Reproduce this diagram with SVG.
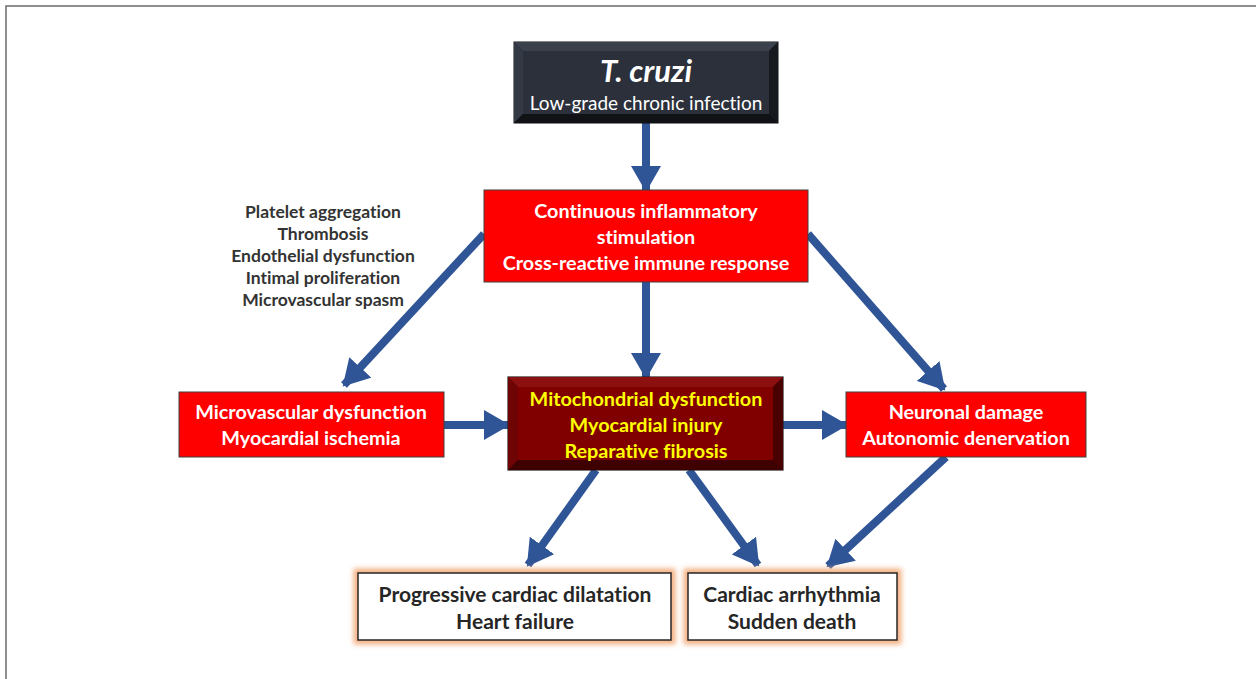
<svg xmlns="http://www.w3.org/2000/svg" width="1256" height="679" viewBox="0 0 1256 679">
<style>
  text { font-variant-ligatures: none; font-feature-settings: "liga" 0, "clig" 0; }
  .t { font-family: Lato, "Liberation Sans", sans-serif; font-weight: bold; text-anchor: middle; }
  .w { fill: #ffffff; font-size: 19.8px; }
  .y { fill: #ffff00; font-size: 19.8px; }
  .d { fill: #262626; font-size: 21px; }
  .s { fill: #333333; font-size: 17.5px; }
  .red { fill: #ff0000; stroke: #404040; stroke-width: 1; }
  .out { fill: #ffffff; stroke: #262626; stroke-width: 1.5; }
  .glow { fill: none; stroke: #f4b183; stroke-width: 9; filter: url(#blur); }
  .arr { stroke: #2f5597; stroke-width: 8; fill: none; marker-end: url(#ah); }
</style>
<defs>
  <marker id="ah" markerUnits="userSpaceOnUse" markerWidth="28" markerHeight="30" refX="24" refY="15" orient="auto">
    <path d="M0,0 L26,15 L0,30 Z" fill="#2f5597"/>
  </marker>
  <filter id="blur" x="-10%" y="-20%" width="120%" height="140%">
    <feGaussianBlur stdDeviation="2.5"/>
  </filter>
</defs>
<rect x="6" y="6" width="1270" height="700" fill="#ffffff" stroke="#6b6b6b" stroke-width="1.5"/>

<g id="connectors">
  <line class="arr" x1="646" y1="123" x2="646" y2="190"/>
  <line class="arr" x1="646" y1="282" x2="646" y2="377"/>
  <line class="arr" x1="484" y1="234" x2="344" y2="385"/>
  <line class="arr" x1="808" y1="234" x2="944" y2="389"/>
  <line class="arr" x1="444" y1="425" x2="508" y2="425"/>
  <line class="arr" x1="783" y1="425" x2="846" y2="425"/>
  <line class="arr" x1="596" y1="470" x2="528" y2="565"/>
  <line class="arr" x1="689" y1="470" x2="758" y2="565"/>
  <line class="arr" x1="946" y1="457" x2="828" y2="566"/>
</g>

<g id="tcruzi">
  <rect x="514" y="42" width="264" height="81" fill="#1b1e24" stroke="#111" stroke-width="1"/>
  <polygon points="514,42 778,42 769,51 523,51" fill="#3a404c"/>
  <polygon points="514,42 523,51 523,114 514,123" fill="#343a45"/>
  <polygon points="778,42 778,123 769,114 769,51" fill="#16191e"/>
  <polygon points="514,123 778,123 769,114 523,114" fill="#101216"/>
  <rect x="523" y="51" width="246" height="63" fill="#2b303b"/>
  <text class="t" x="646" y="82" fill="#ffffff" font-size="31" font-style="italic">T. cruzi</text>
  <text x="646" y="110" fill="#ffffff" font-size="19" font-family="Lato, 'Liberation Sans', sans-serif" text-anchor="middle">Low-grade chronic infection</text>
</g>

<g id="inflammation">
  <rect class="red" x="484" y="190" width="324" height="92"/>
  <text class="t w" x="646" y="218">Continuous inflammatory</text>
  <text class="t w" x="646" y="244">stimulation</text>
  <text class="t w" x="646" y="270">Cross-reactive immune response</text>
</g>

<g id="vascular-notes">
  <text class="t s" x="323" y="218">Platelet aggregation</text>
  <text class="t s" x="323" y="240">Thrombosis</text>
  <text class="t s" x="323" y="262">Endothelial dysfunction</text>
  <text class="t s" x="323" y="284">Intimal proliferation</text>
  <text class="t s" x="323" y="306">Microvascular spasm</text>
</g>

<g id="microvascular">
  <rect class="red" x="179" y="392" width="265" height="65"/>
  <text class="t w" x="311" y="419">Microvascular dysfunction</text>
  <text class="t w" x="311" y="445">Myocardial ischemia</text>
</g>

<g id="myocardial">
  <rect x="508" y="377" width="275" height="93" fill="#5a0000" stroke="#222" stroke-width="1.2"/>
  <polygon points="508,377 783,377 773,387 518,387" fill="#8c1010"/>
  <polygon points="508,377 518,387 518,460 508,470" fill="#6e0404"/>
  <polygon points="783,377 783,470 773,460 773,387" fill="#4a0000"/>
  <polygon points="508,470 783,470 773,460 518,460" fill="#3e0000"/>
  <rect x="518" y="387" width="255" height="73" fill="#800000"/>
  <text class="t y" x="646" y="406">Mitochondrial dysfunction</text>
  <text class="t y" x="646" y="432">Myocardial injury</text>
  <text class="t y" x="646" y="458">Reparative fibrosis</text>
</g>

<g id="neuronal">
  <rect class="red" x="846" y="392" width="240" height="65"/>
  <text class="t w" x="966" y="419">Neuronal damage</text>
  <text class="t w" x="966" y="445">Autonomic denervation</text>
</g>

<g id="heart-failure">
  <rect class="glow" x="358" y="573" width="313" height="67"/>
  <rect class="out" x="358" y="573" width="313" height="67"/>
  <text class="t d" x="515" y="602">Progressive cardiac dilatation</text>
  <text class="t d" x="515" y="629">Heart failure</text>
</g>

<g id="arrhythmia">
  <rect class="glow" x="688" y="573" width="209" height="67"/>
  <rect class="out" x="688" y="573" width="209" height="67"/>
  <text class="t d" x="792" y="602">Cardiac arrhythmia</text>
  <text class="t d" x="792" y="629">Sudden death</text>
</g>
</svg>
